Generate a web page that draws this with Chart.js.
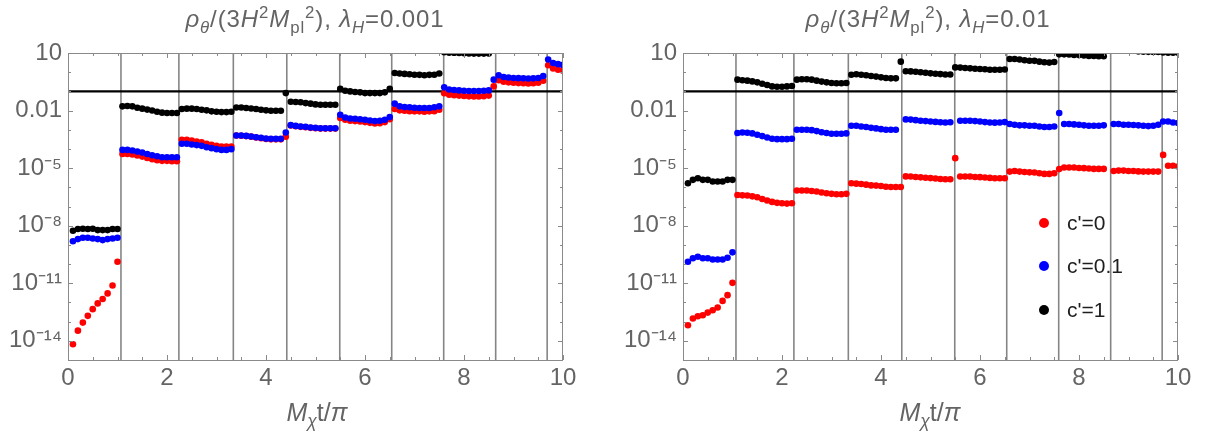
<!DOCTYPE html>
<html>
<head>
<meta charset="utf-8">
<script src="https://cdn.jsdelivr.net/npm/chart.js@4.4.1/dist/chart.umd.min.js"></script>
<style>
  html, body { margin: 0; padding: 0; background: #fff; }
  #page { position: relative; width: 1207px; height: 434px; overflow: hidden;
          font-family: "Liberation Sans", Arial, sans-serif; }
  .panel { position: absolute; top: 0; height: 434px; }
  .panel canvas { display: block; }
  .title, .xlabel { position: absolute; white-space: nowrap; color: #646464;
                    transform: translateX(-50%); line-height: 1; }
  .title { top: 7px; font-size: 24px; letter-spacing: 0.9px; }
  .xlabel { top: 400px; font-size: 25px; }
  sub, sup { font-size: 70%; line-height: 0; }
  .legend-row { position: absolute; height: 24px; line-height: 24px; font-size: 21px; color: #1e1e1e; white-space: nowrap; }
  .legend-row .dot { position: absolute; left: 0; top: 7px; width: 10px; height: 10px; border-radius: 50%; }
  .legend-row span.txt { position: absolute; left: 28px; top: 0; }
</style>
</head>
<body>
<div id="page">
  <div class="panel" style="left:0; width:600px;"><canvas id="panelA" width="600" height="434"></canvas></div>
  <div class="panel" style="left:600px; width:607px;"><canvas id="panelB" width="607" height="434"></canvas></div>

  <div class="title" style="left:315px;"><i>ρ</i><sub><i>θ</i></sub>/(3<i>H</i><sup>2</sup><i>M</i><sub>pl</sub><sup>2</sup>), <i>λ</i><sub><i>H</i></sub>=0.001</div>
  <div class="title" style="left:928px;"><i>ρ</i><sub><i>θ</i></sub>/(3<i>H</i><sup>2</sup><i>M</i><sub>pl</sub><sup>2</sup>), <i>λ</i><sub><i>H</i></sub>=0.01</div>
  <div class="xlabel" style="left:317px;"><i>M</i><sub><i>χ</i></sub>t/<i>π</i></div>
  <div class="xlabel" style="left:930px;"><i>M</i><sub><i>χ</i></sub>t/<i>π</i></div>
  <div id="legend"></div>
</div>

<script>
// sample times, M_chi t / pi
const tGrid = [
  0.1, 0.2, 0.3, 0.4, 0.5, 0.6, 0.7, 0.8, 0.9, 1.0,
  1.1, 1.2, 1.3, 1.4, 1.5, 1.6, 1.7, 1.8, 1.9, 2.0,
  2.1, 2.2, 2.3, 2.4, 2.5, 2.6, 2.7, 2.8, 2.9, 3.0,
  3.1, 3.2, 3.3, 3.4, 3.5, 3.6, 3.7, 3.8, 3.9, 4.0,
  4.1, 4.2, 4.3, 4.4, 4.5, 4.6, 4.7, 4.8, 4.9, 5.0,
  5.1, 5.2, 5.3, 5.4, 5.5, 5.6, 5.7, 5.8, 5.9, 6.0,
  6.1, 6.2, 6.3, 6.4, 6.5, 6.6, 6.7, 6.8, 6.9, 7.0,
  7.1, 7.2, 7.3, 7.4, 7.5, 7.6, 7.7, 7.8, 7.9, 8.0,
  8.1, 8.2, 8.3, 8.4, 8.5, 8.6, 8.7, 8.8, 8.9, 9.0,
  9.1, 9.2, 9.3, 9.4, 9.5, 9.6, 9.7, 9.8, 9.9, 10.0
];

// log10 of rho_theta/(3 H^2 Mpl^2); one row per interval between jumps
// lambda_H = 0.001
const logA_c0 = [
  -14.18, -13.47, -13.05, -12.7, -12.35, -12.05, -11.82, -11.53, -11.12, -9.88,
  -4.26, -4.26, -4.29, -4.34, -4.4, -4.47, -4.54, -4.59, -4.62, -4.62, -4.64, -4.64,
  -3.52, -3.52, -3.56, -3.61, -3.66, -3.73, -3.79, -3.84, -3.87, -3.87, -3.87,
  -3.3, -3.31, -3.33, -3.36, -3.4, -3.44, -3.48, -3.5, -3.5, -3.5, -3.36,
  -2.78, -2.82, -2.85, -2.87, -2.9, -2.92, -2.94, -2.94, -2.94, -2.94,
  -2.39, -2.48, -2.53, -2.55, -2.57, -2.6, -2.64, -2.67, -2.66, -2.6, -2.45,
  -1.92, -1.99, -2.01, -2.03, -2.04, -2.04, -2.06, -2.04, -2.03, -1.96,
  -1.1, -1.17, -1.2, -1.22, -1.24, -1.26, -1.27, -1.27, -1.25, -1.22,
  -0.74, -0.42, -0.5, -0.53, -0.55, -0.57, -0.58, -0.59, -0.58, -0.55, -0.45,
  0.36, 0.19, 0.13, 0.08
];
const logA_c01 = [
  -8.81, -8.7, -8.63, -8.63, -8.67, -8.7, -8.75, -8.7, -8.67, -8.63,
  -4.05, -4.05, -4.08, -4.14, -4.19, -4.26, -4.33, -4.38, -4.43, -4.43, -4.43, -4.43,
  -3.73, -3.73, -3.77, -3.8, -3.84, -3.91, -3.96, -4.01, -4.05, -4.05, -4.01,
  -3.3, -3.3, -3.32, -3.35, -3.39, -3.42, -3.46, -3.47, -3.47, -3.47, -3.14,
  -2.76, -2.8, -2.83, -2.85, -2.88, -2.9, -2.92, -2.92, -2.92, -2.92,
  -2.22, -2.36, -2.41, -2.43, -2.45, -2.48, -2.52, -2.55, -2.53, -2.48, -2.34,
  -1.64, -1.78, -1.82, -1.83, -1.85, -1.87, -1.87, -1.87, -1.83, -1.78,
  -0.79, -0.9, -0.93, -0.95, -0.97, -0.98, -0.98, -0.98, -0.97, -0.95,
  -0.39, -0.16, -0.25, -0.28, -0.3, -0.31, -0.32, -0.33, -0.32, -0.3, -0.2,
  0.66, 0.48, 0.42, 0.38
];
const logA_c1 = [
  -8.26, -8.17, -8.16, -8.17, -8.16, -8.23, -8.23, -8.23, -8.17, -8.17,
  -1.78, -1.76, -1.78, -1.85, -1.9, -1.95, -2.0, -2.06, -2.11, -2.13, -2.13, -2.13,
  -1.92, -1.9, -1.9, -1.92, -1.96, -1.99, -2.04, -2.06, -2.08, -2.08, -2.06,
  -1.84, -1.84, -1.87, -1.89, -1.92, -1.96, -1.99, -2.01, -2.01, -2.01, -1.09,
  -1.54, -1.55, -1.57, -1.61, -1.64, -1.68, -1.7, -1.7, -1.7, -1.7,
  -0.87, -0.97, -1.0, -1.03, -1.05, -1.09, -1.09, -1.09, -1.09, -1.05, -0.87,
  -0.04, -0.07, -0.09, -0.11, -0.13, -0.14, -0.16, -0.14, -0.13, -0.07,
  1.04, 1.02, 1.01, 1.0, 0.99, 0.98, 0.97, 0.97, 0.97, 0.98,
  null, null, null, null, null, null, null, null, null, null, null,
  null, null, null, null
];

// lambda_H = 0.01
const logB_c0 = [
  -13.19, -12.84, -12.72, -12.67, -12.53, -12.41, -12.26, -11.92, -11.62, -10.98,
  -6.4, -6.42, -6.43, -6.47, -6.52, -6.61, -6.69, -6.76, -6.81, -6.83, -6.85, -6.83,
  -6.17, -6.17, -6.17, -6.19, -6.22, -6.27, -6.31, -6.34, -6.36, -6.36, -6.34,
  -5.79, -5.81, -5.83, -5.86, -5.9, -5.91, -5.93, -5.97, -5.98, -5.98, -5.98,
  -5.43, -5.44, -5.46, -5.48, -5.5, -5.52, -5.54, -5.57, -5.58, -5.58,
  -4.48, -5.44, -5.44, -5.44, -5.46, -5.47, -5.49, -5.51, -5.53, -5.53, -5.53,
  -5.18, -5.15, -5.18, -5.2, -5.22, -5.23, -5.27, -5.3, -5.3, -5.27,
  -5.05, -4.97, -4.97, -4.97, -4.99, -5.0, -5.02, -5.04, -5.04, -5.04,
  null, -5.15, -5.13, -5.13, -5.15, -5.15, -5.17, -5.18, -5.18, -5.18, -5.18,
  -4.31, -4.88, -4.88, -4.92
];
const logB_c01 = [
  -9.88, -9.7, -9.62, -9.7, -9.7, -9.76, -9.76, -9.76, -9.67, -9.39,
  -3.17, -3.14, -3.16, -3.19, -3.26, -3.33, -3.4, -3.47, -3.49, -3.49, -3.49, -3.47,
  -3.0, -3.0, -3.0, -3.02, -3.07, -3.13, -3.17, -3.21, -3.21, -3.21, -3.19,
  -2.79, -2.79, -2.83, -2.86, -2.9, -2.93, -2.97, -3.0, -3.0, -3.0, null,
  -2.46, -2.47, -2.5, -2.53, -2.55, -2.57, -2.59, -2.61, -2.62, -2.61,
  null, -2.53, -2.53, -2.53, -2.55, -2.57, -2.6, -2.62, -2.63, -2.62, -2.6,
  -2.7, -2.74, -2.77, -2.77, -2.79, -2.79, -2.83, -2.86, -2.86, -2.83,
  -2.13, -2.7, -2.7, -2.72, -2.74, -2.77, -2.79, -2.79, -2.79, -2.77,
  null, -2.7, -2.7, -2.74, -2.74, -2.75, -2.77, -2.79, -2.81, -2.79, -2.74,
  -2.57, -2.57, -2.62, -2.65
];
const logB_c1 = [
  -5.79, -5.61, -5.53, -5.61, -5.61, -5.7, -5.7, -5.7, -5.61, -5.61,
  -0.39, -0.42, -0.44, -0.48, -0.53, -0.6, -0.67, -0.74, -0.76, -0.76, -0.74, -0.72,
  -0.39, -0.37, -0.37, -0.39, -0.44, -0.49, -0.53, -0.56, -0.58, -0.58, -0.56,
  -0.13, -0.11, -0.13, -0.16, -0.2, -0.23, -0.27, -0.3, -0.32, -0.32, 0.55,
  0.05, 0.04, 0.02, 0.0, -0.03, -0.06, -0.08, -0.1, -0.12, -0.12,
  0.25, 0.24, 0.22, 0.2, 0.18, 0.17, 0.15, 0.13, 0.13, 0.13, 0.14,
  0.69, 0.69, 0.66, 0.62, 0.6, 0.59, 0.55, 0.52, 0.5, 0.53,
  0.93, 0.93, 0.92, 0.9, 0.89, 0.87, 0.85, 0.84, 0.83, 0.83,
  null, null, null, null, null, null, 1.08, 1.07, 1.06, 1.05, 1.05,
  1.03, 1.02, 1.02, 1.02
];

// times of the jumps (grey vertical lines) and the horizontal reference level
const jumpTimes = [1.07, 2.24, 3.34, 4.42, 5.49, 6.54, 7.59, 8.64, 9.68];
const refLevel = 0.1;

const seriesNames = ["c'=0", "c'=0.1", "c'=1"];
const seriesColors = ['#ff0000', '#0000ff', '#000000'];

const xMin = 0, xMax = 10;
const yMin = 1e-15, yMax = 1e1;
const xTickValues = [0, 2, 4, 6, 8, 10];
const xTickLabels = ['0', '2', '4', '6', '8', '10'];
const yTickValues = [1e1, 1e-2, 1e-5, 1e-8, 1e-11, 1e-14];
const yTickLabels = ['10', '0.01', '10\u207B\u2075', '10\u207B\u2078', '10\u207B\u00B9\u00B9', '10\u207B\u00B9\u2074'];

Chart.defaults.font.family = "'Liberation Sans', Arial, sans-serif";

// inward frame ticks on all four sides plus the frame itself
const frameTicks = {
  id: 'frameTicks',
  afterDatasetsDraw(chart) {
    const { ctx, chartArea: a, scales: { x, y } } = chart;
    ctx.save();
    ctx.strokeStyle = '#8a8a8a';
    ctx.lineWidth = 1;
    const seg = (x1, y1, x2, y2) => { ctx.beginPath(); ctx.moveTo(x1, y1); ctx.lineTo(x2, y2); ctx.stroke(); };
    for (let k = 0; k <= 20; k++) {
      const v = xMin + k * 0.5;
      const px = Math.round(x.getPixelForValue(v)) + 0.5;
      const len = xTickValues.includes(v) ? 5 : 3;
      seg(px, a.bottom, px, a.bottom - len);
      seg(px, a.top, px, a.top + len);
    }
    for (let e = -15; e <= 1; e++) {
      const py = Math.round(y.getPixelForValue(Math.pow(10, e))) + 0.5;
      const len = yTickValues.includes(Math.pow(10, e)) ? 5 : 3;
      seg(a.left, py, a.left + len, py);
      seg(a.right, py, a.right - len, py);
    }
    ctx.strokeRect(Math.round(a.left) + 0.5, Math.round(a.top) + 0.5,
                   Math.round(a.width) - 1, Math.round(a.height));
    ctx.restore();
  }
};

function toPoints(logs) {
  return tGrid.map((t, i) => ({ x: t, y: logs[i] === null ? null : Math.pow(10, logs[i]) }));
}

function makePanel(canvasId, logs, padRight, axisWidth) {
  const datasets = [];
  // point series: c'=1 on top, c'=0 at the bottom
  logs.forEach((arr, k) => {
    datasets.push({
      type: 'scatter',
      label: seriesNames[k],
      data: toPoints(arr),
      backgroundColor: seriesColors[k],
      borderWidth: 0,
      pointRadius: 3.3,
      pointHoverRadius: 3.3,
      pointBorderWidth: 0,
      order: 3 - k,
      clip: 0
    });
  });
  jumpTimes.forEach(t => {
    datasets.push({
      type: 'line',
      data: [{ x: t, y: yMin }, { x: t, y: yMax }],
      borderColor: '#858585',
      borderWidth: 1.6,
      pointRadius: 0,
      order: 10
    });
  });
  datasets.push({
    type: 'line',
    data: [{ x: xMin, y: refLevel }, { x: xMax, y: refLevel }],
    borderColor: '#000000',
    borderWidth: 2.4,
    pointRadius: 0,
    order: 9
  });

  return new Chart(document.getElementById(canvasId), {
    type: 'scatter',
    data: { datasets },
    plugins: [frameTicks],
    options: {
      responsive: false,
      animation: false,
      events: [],
      layout: { padding: { left: 0, right: padRight, top: 53, bottom: 0 } },
      plugins: { legend: { display: false }, tooltip: { enabled: false } },
      scales: {
        x: {
          type: 'linear',
          min: xMin,
          max: xMax,
          grid: { display: false, drawTicks: false },
          border: { display: false },
          afterBuildTicks: s => { s.ticks = xTickValues.map(v => ({ value: v })); },
          afterFit: s => { s.height = 74; },
          ticks: {
            padding: 4,
            color: '#646464',
            font: { size: 24 },
            maxRotation: 0,
            callback: (v, i) => xTickLabels[i]
          }
        },
        y: {
          type: 'logarithmic',
          min: yMin,
          max: yMax,
          grid: { display: false, drawTicks: false },
          border: { display: false },
          afterBuildTicks: s => { s.ticks = yTickValues.map(v => ({ value: v })); },
          afterFit: s => { s.width = axisWidth; },
          ticks: {
            padding: 6,
            color: '#646464',
            font: { size: 24 },
            callback: (v, i) => yTickLabels[i]
          }
        }
      }
    }
  });
}

makePanel('panelA', [logA_c0, logA_c01, logA_c1], 37, 68);
makePanel('panelB', [logB_c0, logB_c01, logB_c1], 29, 83);

// legend inside the right panel
const legendEl = document.getElementById('legend');
seriesNames.forEach((name, k) => {
  const row = document.createElement('div');
  row.className = 'legend-row';
  row.style.left = '1039px';
  row.style.top = (211 + k * 43.3) + 'px';
  row.innerHTML = '<span class="dot" style="background:' + seriesColors[k] + '"></span><span class="txt"></span>';
  row.querySelector('.txt').textContent = name;
  legendEl.appendChild(row);
});
</script>
</body>
</html>
